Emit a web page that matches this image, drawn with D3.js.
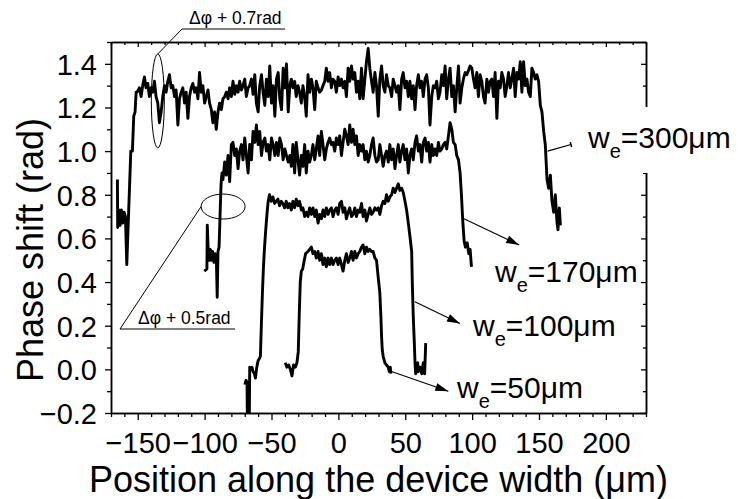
<!DOCTYPE html>
<html>
<head>
<meta charset="utf-8">
<script src="https://cdn.jsdelivr.net/npm/d3@7"></script>
<style>
  body { margin: 0; background: #fff; }
  text { font-family: "Liberation Sans", Arial, sans-serif; fill: #000; }
</style>
</head>
<body>
<script>
// phase shift profiles, [position (um), phase (rad)]
const w300 = [
  [-165.2,0.87],[-165.0,0.65],[-164.0,0.73],[-163.2,0.66],[-162.2,0.73],[-161.2,0.67],[-160.2,0.72],[-159.2,0.70],
  [-158.2,0.48],[-155.2,1.00],[-154.0,1.00],[-153.0,1.16],[-152.0,1.18],[-151.2,1.27],
  [-150.5,1.27],[-148.8,1.29],[-147.5,1.25],[-146.3,1.30],[-145.0,1.34],[-143.8,1.29],[-142.5,1.31],[-141.3,1.25],
  [-140.0,1.29],[-138.8,1.27],[-137.5,1.32],[-136.3,1.25],[-135.0,1.22],[-133.8,1.13],[-132.5,1.18],[-131.3,1.25],
  [-130.0,1.30],[-128.8,1.27],[-127.5,1.32],[-126.3,1.35],[-125.0,1.29],[-123.8,1.30],[-122.5,1.25],[-121.3,1.28],
  [-120.0,1.12],[-118.8,1.24],[-117.5,1.27],[-116.3,1.29],[-115.0,1.22],[-113.8,1.27],[-112.5,1.15],[-111.3,1.25],
  [-110.0,1.29],[-108.8,1.31],[-107.5,1.27],[-106.3,1.29],[-105.0,1.24],[-103.8,1.36],[-102.5,1.27],[-101.3,1.30],
  [-100.0,1.22],[-98.8,1.25],[-97.5,1.28],[-96.3,1.22],[-95.0,1.19],[-93.8,1.13],[-92.5,1.18],[-91.3,1.10],
  [-90.0,1.18],[-88.8,1.22],[-87.5,1.19],[-86.3,1.24],[-85.0,1.25],[-83.8,1.27],[-82.5,1.24],[-81.3,1.29],
  [-80.0,1.25],[-78.8,1.32],[-77.5,1.26],[-76.3,1.30],[-75.0,1.27],[-73.8,1.32],[-72.5,1.28],[-71.3,1.30],
  [-70.0,1.33],[-68.8,1.25],[-67.5,1.29],[-66.3,1.30],[-65.0,1.33],[-63.8,1.26],[-62.5,1.35],[-61.3,1.22],
  [-60.0,1.18],[-58.8,1.30],[-57.5,1.35],[-56.3,1.27],[-55.0,1.21],[-53.8,1.33],[-52.5,1.25],[-51.3,1.39],
  [-50.0,1.22],[-48.8,1.30],[-47.5,1.16],[-46.3,1.33],[-45.0,1.36],[-43.8,1.24],[-42.5,1.19],[-41.3,1.38],
  [-40.0,1.29],[-38.8,1.40],[-37.5,1.18],[-36.3,1.30],
  [-35.2,1.33],[-34.0,1.29],[-32.7,1.32],[-31.5,1.25],[-30.2,1.30],[-29.0,1.27],[-27.7,1.22],[-26.5,1.30],
  [-25.2,1.25],[-24.0,1.16],[-22.7,1.35],[-21.5,1.27],[-20.2,1.33],[-19.0,1.29],[-17.7,1.19],[-16.5,1.32],
  [-15.2,1.29],[-14.0,1.27],[-12.7,1.28],[-11.5,1.30],[-10.2,1.32],[-9.0,1.38],[-7.7,1.32],[-6.5,1.36],
  [-5.2,1.29],[-4.0,1.33],[-2.7,1.32],[-1.5,1.27],[-0.2,1.34],[1.0,1.30],[2.3,1.33],[3.5,1.29],
  [4.8,1.32],[6.0,1.25],[7.3,1.38],[8.5,1.32],[9.8,1.39],[11.0,1.33],[12.3,1.36],[13.5,1.27],
  [14.8,1.32],[16.0,1.24],[17.3,1.38],[18.5,1.24],[19.8,1.33],[21.0,1.41],[22.3,1.47],[23.5,1.38],
  [24.8,1.32],[26.0,1.27],[27.3,1.36],[28.5,1.30],[29.8,1.16],[31.0,1.33],[32.3,1.39],[33.5,1.30],
  [34.8,1.27],[36.0,1.35],[37.3,1.30],[38.5,1.29],[39.8,1.25],[41.0,1.33],[42.3,1.30],[43.5,1.27],
  [44.8,1.30],[46.0,1.19],[47.3,1.33],[48.5,1.36],[49.8,1.29],[51.0,1.32],[52.3,1.25],[53.5,1.32],
  [54.8,1.24],[56.0,1.30],[57.3,1.19],[58.5,1.30],[59.8,1.35],[61.0,1.29],[62.3,1.32],[63.5,1.25],
  [64.8,1.33],[66.0,1.35],[67.3,1.29],[68.5,1.12],[69.8,1.25],[71.0,1.30],[72.3,1.29],[73.5,1.32],
  [74.8,1.24],[76.0,1.27],[77.3,1.35],[78.5,1.30],[79.8,1.39],[81.0,1.24],[82.3,1.33],[83.5,1.38],
  [84.8,1.25],[86.0,1.30],[87.3,1.18],[88.5,1.29],[89.8,1.39],[91.0,1.22],[92.3,1.29],[93.5,1.33],
  [94.8,1.36],[96.0,1.35],[97.3,1.37],[98.5,1.39],[99.8,1.38],
  [101.0,1.33],[102.2,1.29],[103.5,1.36],[104.7,1.25],[106.0,1.35],[107.2,1.32],[108.5,1.25],[109.7,1.22],
  [111.0,1.33],[112.2,1.27],[113.5,1.32],[114.7,1.33],[116.0,1.25],[117.2,1.36],[118.5,1.15],[119.7,1.32],
  [121.0,1.29],[122.2,1.36],[123.5,1.33],[124.7,1.25],[126.0,1.30],[127.2,1.36],[128.5,1.29],[129.7,1.33],
  [131.0,1.38],[132.2,1.25],[133.5,1.36],[134.7,1.33],[136.0,1.41],[137.2,1.27],[138.5,1.41],[139.7,1.30],
  [141.0,1.33],[142.2,1.27],[143.5,1.25],[144.7,1.38],[146.0,1.36],[147.2,1.33],[148.5,1.35],[149.7,1.32],
  [151.0,1.21],[152.2,1.18],[153.5,1.09],[154.7,1.03],[156.0,0.87],[157.2,0.83],[158.5,0.89],[159.7,0.77],
  [161.0,0.72],[162.2,0.80],[163.5,0.67],[164.2,0.64],[165.2,0.74],[166.0,0.66]
];
const w170 = [
  [-100.2,0.45],[-98.3,0.46],[-98.0,0.66],[-97.3,0.54],[-96.5,0.50],[-95.7,0.55],[-94.8,0.50],[-94.0,0.54],
  [-93.0,0.49],[-92.0,0.53],[-91.2,0.50],[-90.6,0.33],[-90.0,0.54],[-89.2,0.56],[-88.5,0.70],[-87.7,0.85],
  [-87.0,0.90],[-86.3,0.87],[-85.0,0.95],[-83.8,0.89],[-82.5,0.98],[-81.3,0.86],[-80.0,1.03],[-78.8,1.04],
  [-77.5,0.98],[-76.3,1.01],[-75.0,0.92],[-73.8,1.00],[-72.5,1.03],[-71.3,0.96],[-70.0,1.06],[-68.8,0.98],
  [-67.5,0.90],[-66.3,1.03],[-65.0,0.96],[-63.8,1.09],[-62.5,1.04],[-61.3,1.12],[-60.0,1.03],[-58.8,1.09],
  [-57.5,0.98],[-56.3,1.04],[-55.0,1.06],[-53.8,1.00],[-52.5,1.03],[-51.3,0.96],[-50.0,1.06],[-48.8,1.03],
  [-47.5,0.98],[-46.3,1.04],[-45.0,0.98],[-43.8,1.06],[-42.5,1.03],[-41.3,0.96],[-40.0,1.01],[-38.8,0.98],
  [-37.5,0.95],[-36.3,0.98],[-35.2,0.93],
  [-34.0,1.03],[-32.7,0.90],[-31.5,1.04],[-30.2,0.96],[-29.0,0.89],[-27.7,0.98],[-26.5,0.93],[-25.2,1.03],
  [-24.0,0.90],[-22.7,1.00],[-21.5,0.95],[-20.2,0.98],[-19.0,1.03],[-17.7,0.96],[-16.5,1.01],[-15.2,1.07],
  [-14.0,0.98],[-12.7,1.09],[-11.5,1.03],[-10.2,0.96],[-9.0,1.01],[-7.7,1.04],[-6.5,1.06],[-5.2,1.03],
  [-4.0,1.04],[-2.7,1.00],[-1.5,1.06],[-0.2,1.03],[1.0,1.07],[2.3,0.98],[3.5,1.04],[4.8,1.10],
  [6.0,1.07],[7.3,1.03],[8.5,1.12],[9.8,1.04],[11.0,1.10],[12.3,1.03],[13.5,1.07],[14.8,0.98],
  [16.0,1.03],[17.3,1.00],[18.5,1.03],[19.8,0.96],[21.0,1.00],[22.3,0.95],[23.5,0.98],[24.8,1.03],
  [26.0,1.06],[27.3,0.98],[28.5,0.95],[29.8,0.96],[31.0,1.03],[32.3,0.98],[33.5,0.93],[34.8,0.98],
  [36.0,1.00],[37.3,0.95],[38.5,1.03],[39.8,0.96],[41.0,1.01],[42.3,0.92],[43.5,0.98],[44.8,1.03],
  [46.0,0.95],[47.3,1.00],[48.5,1.03],[49.8,0.96],[51.0,1.01],[52.3,0.90],[53.5,0.98],[54.8,1.01],
  [56.0,0.96],[57.3,1.04],[58.5,1.07],[59.8,1.00],[61.0,1.03],[62.3,0.95],[63.5,1.04],[64.8,1.06],
  [66.0,1.00],[67.3,1.04],[68.5,0.95],[69.8,1.03],[71.0,0.98],[72.3,1.01],[73.5,0.98],[74.8,1.04],
  [76.0,1.00],[77.3,1.01],[78.5,1.03],[79.8,1.04],[81.0,1.01],[82.3,1.07],[83.5,1.13],[84.8,1.10],
  [86.0,1.04],[87.3,1.03],[88.5,0.98],[89.8,0.96],[91.0,0.90],[92.0,0.80],[93.0,0.68],[94.0,0.59],
  [95.0,0.56],[96.3,0.58],[97.5,0.53],[98.5,0.55],[99.5,0.47]
];
const w100 = [
  [-70.0,-0.07],[-69.0,-0.05],[-68.3,-0.06],[-68.0,-0.25],[-66.6,-0.25],[-66.3,0.01],[-65.5,0.00],[-64.6,0.01],
  [-63.8,-0.01],[-62.8,-0.02],[-62.0,-0.04],[-61.0,0.01],[-60.0,0.04],[-59.0,0.05],[-58.3,0.06],[-57.6,0.20],
  [-56.8,0.35],[-56.0,0.47],[-55.2,0.56],[-54.3,0.64],[-53.4,0.71],[-52.5,0.77],
  [-51.5,0.80],[-50.2,0.77],[-49.0,0.79],[-47.7,0.76],[-46.5,0.77],[-45.2,0.78],[-44.0,0.75],[-42.7,0.77],
  [-41.5,0.76],[-40.2,0.74],[-39.0,0.77],[-37.7,0.74],[-36.5,0.76],[-35.2,0.73],
  [-34.0,0.77],[-32.7,0.74],[-31.5,0.78],[-30.2,0.75],[-29.0,0.77],[-27.7,0.73],[-26.5,0.74],[-25.2,0.70],
  [-24.0,0.72],[-22.7,0.70],[-21.5,0.74],[-20.2,0.71],[-19.0,0.74],[-17.7,0.70],[-16.5,0.73],[-15.2,0.67],
  [-14.0,0.71],[-12.7,0.69],[-11.5,0.73],[-10.2,0.70],[-9.0,0.74],[-7.7,0.71],[-6.5,0.73],[-5.2,0.74],
  [-4.0,0.70],[-2.7,0.73],[-1.5,0.74],[-0.2,0.71],[1.0,0.76],[2.3,0.77],[3.5,0.72],[4.8,0.74],
  [6.0,0.69],[7.3,0.72],[8.5,0.74],[9.8,0.70],[11.0,0.71],[12.3,0.74],[13.5,0.70],[14.8,0.73],
  [16.0,0.72],[17.3,0.76],[18.5,0.70],[19.8,0.73],[21.0,0.68],[22.3,0.71],[23.5,0.74],[24.8,0.71],
  [26.0,0.72],[27.3,0.74],[28.5,0.73],[29.8,0.74],[31.0,0.71],[32.3,0.75],[33.5,0.77],[34.8,0.76],
  [36.0,0.80],[37.3,0.77],[38.5,0.79],[39.8,0.80],[41.0,0.83],[42.3,0.81],[43.5,0.83],[44.8,0.85],
  [46.0,0.82],[47.3,0.83],[48.5,0.81],[49.8,0.77],[51.0,0.73],[52.3,0.67],[53.5,0.61],[54.8,0.54],
  [55.3,0.39],[56.0,0.24],[56.8,0.12],[57.3,0.03],[57.8,-0.02],[58.5,-0.01],[59.3,0.03],[59.8,-0.01],
  [61.0,0.01],[62.3,-0.02],[63.5,0.03],[64.5,-0.02],[65.3,0.12]
];
const w50 = [
  [-39.7,0.03],[-38.5,0.01],[-37.2,0.02],[-35.9,0.00],[-34.7,-0.03],[-33.5,0.02],[-32.2,0.01],[-31.0,0.03],
  [-30.0,0.08],[-29.3,0.24],[-28.5,0.40],[-27.7,0.45],[-26.7,0.46],[-25.5,0.50],[-24.5,0.53],
  [-22.7,0.54],[-21.5,0.55],[-20.2,0.56],[-19.0,0.53],[-17.7,0.54],[-16.5,0.51],[-15.2,0.54],[-14.0,0.50],
  [-12.7,0.53],[-11.5,0.48],[-10.2,0.51],[-9.0,0.47],[-7.7,0.51],[-6.5,0.48],[-5.2,0.51],[-4.0,0.48],
  [-2.7,0.50],[-1.5,0.51],[-0.2,0.48],[1.0,0.51],[2.3,0.48],[3.5,0.45],[4.8,0.50],[6.0,0.53],
  [7.3,0.49],[8.5,0.51],[9.8,0.54],[11.0,0.50],[12.3,0.54],[13.5,0.51],[14.8,0.53],[16.0,0.54],
  [17.3,0.56],[18.5,0.57],[19.8,0.53],[21.0,0.56],[22.3,0.54],[23.5,0.55],[24.8,0.54],[26.0,0.54],
  [27.3,0.51],[28.5,0.50],[29.8,0.42],[31.0,0.35],[31.8,0.24],[32.3,0.15],[32.8,0.09],[33.5,0.06],
  [34.8,0.03],[36.0,0.02],[37.3,0.01],[38.0,-0.01],[38.8,0.01],[39.3,-0.02]
];
const series = [w300, w170, w100, w50];

// axis ticks
const xTicks = [-150, -100, -50, 0, 50, 100, 150, 200];
const xMinor = [-170,-160,-140,-130,-120,-110,-90,-80,-70,-60,-40,-30,-20,-10,10,20,30,40,60,70,80,90,110,120,130,140,160,170,180,190,210,220,230];
const yTicks = [-0.2, 0.0, 0.2, 0.4, 0.6, 0.8, 1.0, 1.2, 1.4];
const yMinor = [-0.1, 0.1, 0.3, 0.5, 0.7, 0.9, 1.1, 1.3, 1.5];

// curve labels: label, arrow start (on curve), arrow end, in data units
const curveLabels = [
  {num: "300", from: [156.4, 1.00], to: [173.9, 1.03], head: "bar"},
  {num: "170", from: [93.9, 0.69], to: [135.2, 0.57], head: "arrow"},
  {num: "100", from: [57.2, 0.31], to: [90.9, 0.21], head: "arrow"},
  {num: "50", from: [39.7, -0.01], to: [82.2, -0.10], head: "arrow"}
];
const labelPos = [[588, 148], [495, 282], [473, 336], [457, 398]];

// offset notes: ellipse centre in data units
const offsetNotes = [
  {text: "\u0394\u03c6 + 0.7rad", centre: [-135, 1.23], rx: 6.5, ry: 47},
  {text: "\u0394\u03c6 + 0.5rad", centre: [-86.2, 0.746], rx: 22, ry: 12.5}
];

const width = 738, height = 499;
const pLeft = 111, pRight = 646, pTop = 42, pBottom = 413;

const x = d3.scaleLinear().domain([-170, 230]).range([pLeft, pRight]);
const y = d3.scaleLinear().domain([-0.2, 1.5]).range([pBottom, pTop]);

const svg = d3.select("body").append("svg")
  .attr("width", width)
  .attr("height", height);

svg.append("defs").append("clipPath").attr("id", "plot")
  .append("rect")
  .attr("x", pLeft).attr("y", pTop)
  .attr("width", pRight - pLeft).attr("height", pBottom - pTop);

const fmt = d => d.toFixed(1).replace("-", "\u2212");

function styleAxis(g) {
  g.selectAll(".domain").attr("stroke-width", 1.5);
  g.selectAll(".tick line").attr("stroke-width", 1.3);
  g.selectAll("text").remove();
}

// bottom
svg.append("g").attr("transform", `translate(0,${pBottom})`)
  .call(d3.axisBottom(x).tickValues(xMinor).tickSize(4).tickSizeOuter(0)).call(styleAxis);
const xAx = svg.append("g").attr("transform", `translate(0,${pBottom})`)
  .call(d3.axisBottom(x).tickValues(xTicks).tickSize(7).tickSizeOuter(0));
xAx.selectAll(".domain").attr("stroke-width", 1.5);
xAx.selectAll(".tick line").attr("stroke-width", 1.3);
xAx.selectAll("text").attr("font-size", 29).attr("y", 40).attr("dy", 0)
  .attr("font-family", "Liberation Sans, Arial, sans-serif")
  .text(d => String(d).replace("-", "\u2212"));

// top
svg.append("g").attr("transform", `translate(0,${pTop})`)
  .call(d3.axisTop(x).tickValues(xMinor).tickSize(-3).tickSizeOuter(0)).call(styleAxis);
svg.append("g").attr("transform", `translate(0,${pTop})`)
  .call(d3.axisTop(x).tickValues(xTicks).tickSize(-5).tickSizeOuter(0)).call(styleAxis);

// left
svg.append("g").attr("transform", `translate(${pLeft},0)`)
  .call(d3.axisLeft(y).tickValues(yMinor).tickSize(4).tickSizeOuter(0)).call(styleAxis);
const yAx = svg.append("g").attr("transform", `translate(${pLeft},0)`)
  .call(d3.axisLeft(y).tickValues(yTicks).tickSize(6).tickSizeOuter(0));
yAx.selectAll(".domain").attr("stroke-width", 1.5);
yAx.selectAll(".tick line").attr("stroke-width", 1.3);
yAx.selectAll("text").attr("font-size", 29).attr("x", -14).attr("dy", "0.36em")
  .attr("font-family", "Liberation Sans, Arial, sans-serif")
  .text(fmt);

// right
svg.append("g").attr("transform", `translate(${pRight},0)`)
  .call(d3.axisRight(y).tickValues(yMinor).tickSize(-3).tickSizeOuter(0)).call(styleAxis);
svg.append("g").attr("transform", `translate(${pRight},0)`)
  .call(d3.axisRight(y).tickValues(yTicks).tickSize(-5).tickSizeOuter(0)).call(styleAxis);

// axis titles
svg.append("text")
  .attr("x", (pLeft + pRight) / 2).attr("y", 492)
  .attr("text-anchor", "middle").attr("font-size", 36)
  .text("Position along the device width (\u03bcm)");
svg.append("text")
  .attr("transform", "translate(43,250) rotate(-90)")
  .attr("text-anchor", "middle").attr("font-size", 36)
  .text("Phase shift (rad)");

// curves
const line = d3.line().x(d => x(d[0])).y(d => y(d[1]));
svg.append("g").attr("clip-path", "url(#plot)")
  .selectAll("path").data(series).enter().append("path")
  .attr("d", line)
  .attr("fill", "none")
  .attr("stroke", "#000")
  .attr("stroke-width", 2.9)
  .attr("stroke-linejoin", "round");

// offset notes
const n0 = offsetNotes[0], n1 = offsetNotes[1];
svg.selectAll("ellipse.note").data(offsetNotes).enter().append("ellipse")
  .attr("cx", d => x(d.centre[0])).attr("cy", d => y(d.centre[1]))
  .attr("rx", d => d.rx).attr("ry", d => d.ry)
  .attr("fill", "none").attr("stroke", "#000").attr("stroke-width", 1);

svg.append("path")
  .attr("d", `M${x(n0.centre[0])},${y(n0.centre[1]) - n0.ry} L182,29 L285,29`)
  .attr("fill", "none").attr("stroke", "#000").attr("stroke-width", 1);
svg.append("text").attr("x", 189).attr("y", 24).attr("font-size", 17.5).text(n0.text);

svg.append("path")
  .attr("d", `M${x(n1.centre[0]) - n1.rx},${y(n1.centre[1])} L120,329 L235,329`)
  .attr("fill", "none").attr("stroke", "#000").attr("stroke-width", 1);
svg.append("text").attr("x", 138).attr("y", 324).attr("font-size", 17.5).text(n1.text);

// white box behind the 300 um label cuts the right axis
svg.append("rect").attr("x", 580).attr("y", 107).attr("width", 158).attr("height", 66).attr("fill", "#fff");

// arrows
curveLabels.forEach((c, i) => {
  const x1 = x(c.from[0]), y1 = y(c.from[1]), x2 = x(c.to[0]), y2 = y(c.to[1]);
  const ang = Math.atan2(y2 - y1, x2 - x1);
  svg.append("line").attr("x1", x1).attr("y1", y1).attr("x2", x2).attr("y2", y2)
    .attr("stroke", "#000").attr("stroke-width", 1.1);
  const g = svg.append("g").attr("transform", `translate(${x2},${y2}) rotate(${ang * 180 / Math.PI})`);
  if (c.head === "arrow") {
    g.append("path").attr("d", "M0,0 L-13,-4 L-13,4 Z").attr("fill", "#000");
  } else {
    g.append("path").attr("d", "M0,-2.5 L0,2.5").attr("stroke", "#000").attr("stroke-width", 1.5);
  }
  const t = svg.append("text").attr("x", labelPos[i][0]).attr("y", labelPos[i][1]).attr("font-size", 30);
  t.append("tspan").text("w");
  t.append("tspan").attr("font-size", 20).attr("dy", 10).text("e");
  t.append("tspan").attr("dy", -10).text("=" + c.num + "\u03bcm");
});
</script>
</body>
</html>
